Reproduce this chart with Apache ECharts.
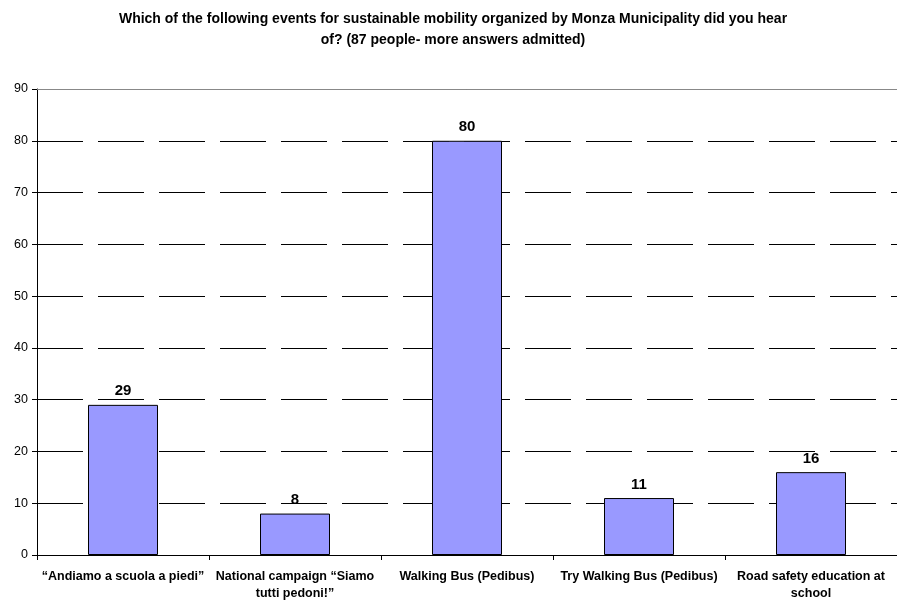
<!DOCTYPE html>
<html>
<head>
<meta charset="utf-8">
<script src="https://cdn.jsdelivr.net/npm/echarts@6/dist/echarts.min.js"></script>
<style>
  html, body { margin: 0; padding: 0; background: #fff; }
  #chart { width: 897px; height: 608px; }
</style>
</head>
<body>
<div id="chart"></div>
<script>
// Survey answers: events heard of (87 respondents, multiple answers allowed)
const categories = [
  '\u201cAndiamo a scuola a piedi\u201d',
  'National campaign \u201cSiamo\ntutti pedoni!\u201d',
  'Walking Bus (Pedibus)',
  'Try Walking Bus (Pedibus)',
  'Road safety education at\nschool'
];
const answers = [29, 8, 80, 11, 16];
const yTicks = { min: 0, max: 90, interval: 10 };

const chart = echarts.init(document.getElementById('chart'), null, { renderer: 'canvas' });
const font = 'Liberation Sans, Arial, Helvetica, sans-serif';

chart.setOption({
  animation: false,
  backgroundColor: '#ffffff',
  title: {
    text: 'Which of the following events for sustainable mobility organized by Monza Municipality did you hear\nof? (87 people- more answers admitted)',
    left: 448,
    top: 4,
    textAlign: 'center',
    textStyle: { fontFamily: font, fontSize: 14, fontWeight: 'bold', color: '#000', lineHeight: 21 }
  },
  grid: { left: 37, right: 0, top: 89, bottom: 53, containLabel: false },
  xAxis: [{
    type: 'category',
    data: categories,
    axisLine: { lineStyle: { color: '#000', width: 1 } },
    axisTick: { show: true, length: 5, lineStyle: { color: '#000' } },
    axisLabel: {
      interval: 0, margin: 13, color: '#000',
      fontFamily: font, fontSize: 12.5, fontWeight: 'bold', lineHeight: 17
    }
  }, {
    // frame line along the top of the plot area
    type: 'category',
    position: 'top',
    data: categories,
    axisLine: { show: true, lineStyle: { color: '#888', width: 1 } },
    axisTick: { show: false },
    axisLabel: { show: false }
  }],
  yAxis: {
    type: 'value',
    min: yTicks.min, max: yTicks.max, interval: yTicks.interval,
    axisLine: { show: true, lineStyle: { color: '#000' } },
    axisTick: { show: true, length: 5, lineStyle: { color: '#000' } },
    axisLabel: { margin: 9, color: '#000', fontFamily: font, fontSize: 12.5 },
    splitLine: {
      show: true,
      lineStyle: { color: '#000', width: 1, type: [46, 15] }
    }
  },
  series: [{
    type: 'bar',
    data: answers,
    barWidth: 70,
    itemStyle: { color: '#9999ff', borderColor: '#000', borderWidth: 1 },
    label: {
      show: true, position: 'top', distance: 6,
      color: '#000', fontFamily: font, fontSize: 15, fontWeight: 'bold'
    }
  }]
});
</script>
</body>
</html>
